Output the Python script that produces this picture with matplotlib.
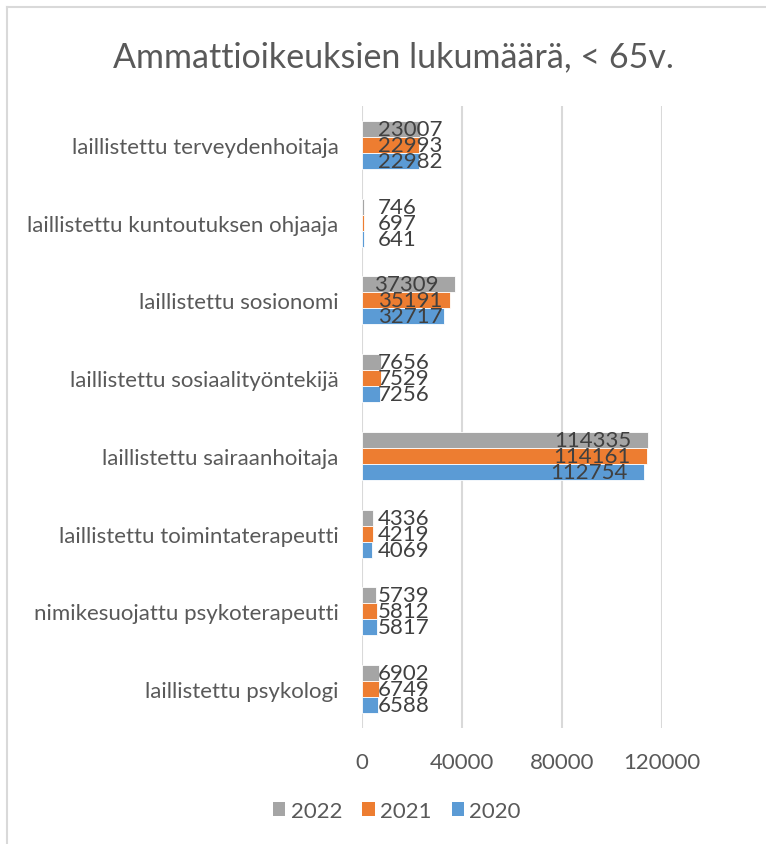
import numpy as np
import matplotlib.pyplot as plt
from matplotlib.lines import Line2D
from matplotlib.patches import Patch

# data, top category first
categories = [
    "laillistettu terveydenhoitaja",
    "laillistettu kuntoutuksen ohjaaja",
    "laillistettu sosionomi",
    "laillistettu sosiaalityöntekijä",
    "laillistettu sairaanhoitaja",
    "laillistettu toimintaterapeutti",
    "nimikesuojattu psykoterapeutti",
    "laillistettu psykologi",
]
v2022 = [23007, 746, 37309, 7656, 114335, 4336, 5739, 6902]
v2021 = [22993, 697, 35191, 7529, 114161, 4219, 5812, 6749]
v2020 = [22982, 641, 32717, 7256, 112754, 4069, 5817, 6588]
years = ["2022", "2021", "2020"]
xticks = [0, 40000, 80000, 120000]

colors = ["#A5A5A5", "#ED7D31", "#5B9BD5"]
txt = "#595959"
lbl = "#404040"
grid = "#D9D9D9"
fs = 16

plt.rcParams['font.family'] = ['Lato', 'DejaVu Sans']

W, H = 766, 845
fig = plt.figure(figsize=(W / 100, H / 100), dpi=100)
ax = fig.add_axes([362 / W, 1 - 729 / H, 300 / W, 622 / H])

# chart border (only left and top visible in the crop)
fig.add_artist(Line2D([7 / W, 7 / W], [0, 1 - 8 / H], color=grid, lw=1.5))
fig.add_artist(Line2D([7 / W, 1], [1 - 8 / H, 1 - 8 / H], color=grid, lw=1.5))

y = np.arange(len(categories))
h = 0.206
series = [v2022, v2021, v2020]
offsets = [-h, 0, h]
for vals, c, off in zip(series, colors, offsets):
    bars = ax.barh(y + off, vals, height=h, color=c, edgecolor="white", linewidth=0.6, zorder=3)
    for b, v in zip(bars, vals):
        yc = b.get_y() + b.get_height() / 2
        if v > 36000:
            ax.annotate(str(v), (v, yc), xytext=(-12, 0), textcoords="offset points",
                        ha="right", va="center", fontsize=fs, color=lbl, zorder=4)
        else:
            ax.annotate(str(v), (0, yc), xytext=(11.5, 0), textcoords="offset points",
                        ha="left", va="center", fontsize=fs, color=lbl, zorder=4)

ax.set_xlim(0, 120000)
ax.set_ylim(len(categories) - 0.5, -0.5)
ax.set_yticks(y)
ax.set_yticklabels(categories, fontsize=fs, color=txt)
ax.set_xticks(xticks)
ax.set_xticklabels([str(t) for t in xticks], fontsize=fs, color=txt)
ax.tick_params(axis="both", length=0)
ax.tick_params(axis="y", pad=17)
ax.tick_params(axis="x", pad=17)
for s in ax.spines.values():
    s.set_visible(False)
ax.grid(axis="x", color=grid, lw=1.5, zorder=0)
ax.set_axisbelow(True)

fig.text(393 / W, 1 - 57 / H, "Ammattioikeuksien lukumäärä, < 65v.", ha="center", va="center",
         fontsize=24.5, color=txt)

handles = [Patch(facecolor=c, label=yr) for c, yr in zip(colors, years)]
fig.legend(handles=handles, loc="center", bbox_to_anchor=(397 / W, 1 - 812 / H), ncol=3,
           frameon=False, fontsize=fs, labelcolor=txt, handlelength=0.55, handleheight=0.55,
           handletextpad=0.25, columnspacing=0.9)

fig.savefig("out.png", dpi=100)
